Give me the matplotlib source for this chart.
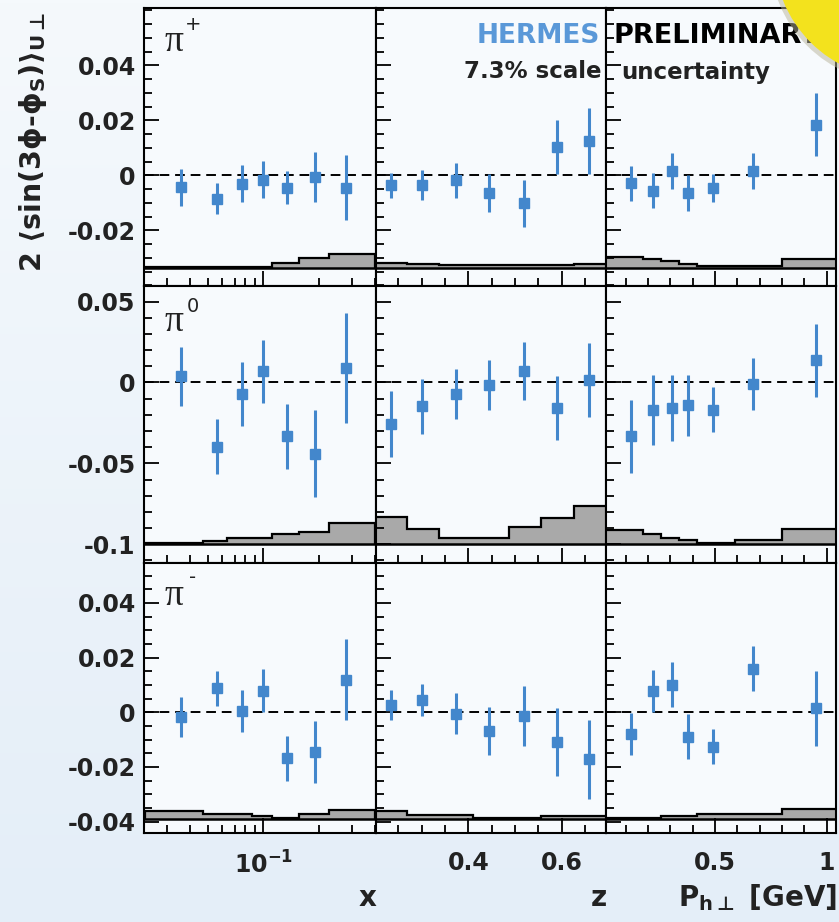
"""HERMES preliminary sin(3phi-phiS) asymmetries for pions vs x, z and Ph"""

import numpy as np
import matplotlib.pyplot as plt
from matplotlib.ticker import (MultipleLocator, FixedLocator, FixedFormatter,
                               LogLocator, NullFormatter, FuncFormatter)
from matplotlib.patches import Circle

# ---- data ----
x_pts = [0.036, 0.056, 0.077, 0.100, 0.134, 0.189, 0.281]
z_pts = [0.234, 0.301, 0.373, 0.444, 0.519, 0.589, 0.659]
pt_pts = [0.124, 0.224, 0.306, 0.381, 0.492, 0.672, 0.952]

x_edges = [0.023, 0.047, 0.064, 0.087, 0.112, 0.155, 0.226, 0.4]
z_edges = [0.2, 0.268, 0.338, 0.41, 0.486, 0.556, 0.626, 0.7]
pt_edges = [0.0, 0.18, 0.26, 0.34, 0.42, 0.59, 0.80, 1.05]

# pi+
pip_x = [-0.0043, -0.0085, -0.0030, -0.0015, -0.0045, -0.0006, -0.0045]
pip_x_err = [0.0067, 0.0057, 0.0067, 0.0067, 0.0060, 0.0091, 0.0118]
pip_z = [-0.0036, -0.0034, -0.0018, -0.0064, -0.0101, 0.0103, 0.0125]
pip_z_err = [0.0045, 0.0055, 0.0063, 0.0068, 0.0085, 0.0098, 0.0120]
pip_pt = [-0.0028, -0.0055, 0.0016, -0.0064, -0.0046, 0.0016, 0.0185]
pip_pt_err = [0.0064, 0.0064, 0.0067, 0.0065, 0.0052, 0.0067, 0.0115]
pip_x_sys = [0.0002, 0.0002, 0.0002, 0.0002, 0.0016, 0.0034, 0.0049]
pip_z_sys = [0.0016, 0.0014, 0.0012, 0.0012, 0.0012, 0.0012, 0.0014]
pip_pt_sys = [0.0040, 0.0032, 0.0024, 0.0015, 0.0006, 0.0006, 0.0032]

# pi0
pi0_x = [0.0037, -0.0399, -0.0070, 0.0070, -0.0333, -0.0440, 0.0091]
pi0_x_err = [0.0185, 0.0170, 0.0197, 0.0195, 0.0202, 0.0269, 0.0339]
pi0_z = [-0.0255, -0.0146, -0.0074, -0.0018, 0.0070, -0.0158, 0.0017]
pi0_z_err = [0.0205, 0.0170, 0.0154, 0.0154, 0.0180, 0.0195, 0.0228]
pi0_pt = [-0.0333, -0.0173, -0.0158, -0.0142, -0.0168, -0.0008, 0.0136]
pi0_pt_err = [0.0226, 0.0216, 0.0206, 0.0190, 0.0140, 0.0160, 0.0226]
pi0_x_sys = [0.0006, 0.0020, 0.0037, 0.0037, 0.0064, 0.0078, 0.0133]
pi0_z_sys = [0.0168, 0.0097, 0.0037, 0.0037, 0.0109, 0.0165, 0.0236]
pi0_pt_sys = [0.0086, 0.0066, 0.0041, 0.0025, 0.0006, 0.0025, 0.0097]

# pi-
pim_x = [-0.0017, 0.0087, 0.0004, 0.0078, -0.0169, -0.0145, 0.0119]
pim_x_err = [0.0073, 0.0063, 0.0078, 0.0079, 0.0082, 0.0114, 0.0149]
pim_z = [0.0026, 0.0046, -0.0005, -0.0069, -0.0013, -0.0108, -0.0173]
pim_z_err = [0.0055, 0.0059, 0.0075, 0.0088, 0.0110, 0.0124, 0.0146]
pim_pt = [-0.0080, 0.0077, 0.0101, -0.0090, -0.0127, 0.0160, 0.0014]
pim_pt_err = [0.0076, 0.0076, 0.0082, 0.0083, 0.0064, 0.0083, 0.0136]
pim_x_sys = [0.0028, 0.0016, 0.0016, 0.0010, 0.0003, 0.0016, 0.0034]
pim_z_sys = [0.0028, 0.0014, 0.0014, 0.0003, 0.0003, 0.0012, 0.0012]
pim_pt_sys = [0.0003, 0.0003, 0.0010, 0.0010, 0.0018, 0.0018, 0.0037]

hadrons = ['+', '0', '-']

# ---- style / layout ----
plt.rcParams['font.family'] = 'DejaVu Sans'
plt.rcParams['font.weight'] = 'bold'
plt.rcParams['mathtext.fontset'] = 'dejavusans'
plt.rcParams['mathtext.default'] = 'bf'

W, H = 839, 922
col_x = [144, 376, 605.7, 836]
row_y = [8, 285.7, 563.3, 833]
ylims = [(-0.0401, 0.0609), (-0.1118, 0.0598), (-0.0442, 0.0545)]
sys_base = [-0.0336, -0.100, -0.039]
xlims = [(0.02265, 0.406), (0.202, 0.694), (0.011, 1.042)]
blue = '#4387cc'
txt = '#222222'

fig = plt.figure(figsize=(W / 100, H / 100), dpi=100)

# soft bluish background
bg = fig.add_axes([0, 0, 1, 1], zorder=-10)
grad = np.linspace(0, 1, 256)[:, None] * np.ones((1, 16))
bg.imshow(grad, aspect='auto', extent=[0, 1, 0, 1], origin='upper',
          cmap=plt.matplotlib.colors.LinearSegmentedColormap.from_list(
              'bg', ['#f5f9fc', '#e4eef8']))
bg.axis('off')

data = {
    (0, 0): (x_pts, pip_x, pip_x_err, x_edges, pip_x_sys),
    (0, 1): (z_pts, pip_z, pip_z_err, z_edges, pip_z_sys),
    (0, 2): (pt_pts, pip_pt, pip_pt_err, pt_edges, pip_pt_sys),
    (1, 0): (x_pts, pi0_x, pi0_x_err, x_edges, pi0_x_sys),
    (1, 1): (z_pts, pi0_z, pi0_z_err, z_edges, pi0_z_sys),
    (1, 2): (pt_pts, pi0_pt, pi0_pt_err, pt_edges, pi0_pt_sys),
    (2, 0): (x_pts, pim_x, pim_x_err, x_edges, pim_x_sys),
    (2, 1): (z_pts, pim_z, pim_z_err, z_edges, pim_z_sys),
    (2, 2): (pt_pts, pim_pt, pim_pt_err, pt_edges, pim_pt_sys),
}

yfmt = FuncFormatter(lambda v, p: '0' if abs(v) < 1e-9 else f'{v:g}')

for r in range(3):
    for c in range(3):
        rect = [col_x[c] / W, 1 - row_y[r + 1] / H,
                (col_x[c + 1] - col_x[c]) / W, (row_y[r + 1] - row_y[r]) / H]
        ax = fig.add_axes(rect, facecolor='#f7fafd')
        if c == 0:
            ax.set_xscale('log')
        ax.set_xlim(*xlims[c])
        ax.set_ylim(*ylims[r])

        pts, val, err, edges, sys_h = data[(r, c)]
        base = sys_base[r]
        ax.stairs(np.array(sys_h) + base, edges, baseline=base, fill=True,
                  facecolor='#a9a9a9', edgecolor='none', zorder=1)
        ax.stairs(np.array(sys_h) + base, edges, baseline=base, fill=False,
                  edgecolor='k', lw=1.6, zorder=2)
        ax.axhline(base, color='k', lw=1.8, zorder=2)

        ax.axhline(0, color='k', lw=1.4, ls=(0, (5, 3)), zorder=3)
        ax.errorbar(pts, val, yerr=err, fmt='s', ms=7.5, color=blue,
                    mec=blue, elinewidth=2.2, capsize=0, zorder=4)

        for s in ax.spines.values():
            s.set_linewidth(1.5)
        ax.tick_params(which='both', direction='in', top=False, right=False,
                       width=1.3, colors='k', labelcolor=txt, labelsize=17)
        ax.tick_params(which='major', length=11, pad=6)
        ax.tick_params(which='minor', length=6)

        # y ticks
        if r == 1:
            ax.yaxis.set_major_locator(FixedLocator([-0.1, -0.05, 0, 0.05]))
            ax.yaxis.set_minor_locator(MultipleLocator(0.01))
        elif r == 0:
            ax.yaxis.set_major_locator(FixedLocator([-0.02, 0, 0.02, 0.04]))
            ax.yaxis.set_minor_locator(MultipleLocator(0.005))
        else:
            ax.yaxis.set_major_locator(FixedLocator([-0.04, -0.02, 0, 0.02, 0.04]))
            ax.yaxis.set_minor_locator(MultipleLocator(0.005))
        ax.yaxis.set_major_formatter(yfmt)
        if c > 0:
            ax.tick_params(labelleft=False)

        # x ticks
        if c == 0:
            ax.xaxis.set_major_locator(FixedLocator([0.1]))
            ax.xaxis.set_major_formatter(FixedFormatter([r'$10^{-1}$']))
            ax.xaxis.set_minor_locator(LogLocator(base=10, subs=np.arange(2, 10)))
            ax.xaxis.set_minor_formatter(NullFormatter())
        elif c == 1:
            ax.xaxis.set_major_locator(FixedLocator([0.4, 0.6]))
            ax.xaxis.set_major_formatter(FixedFormatter(['0.4', '0.6']))
            ax.xaxis.set_minor_locator(MultipleLocator(0.05))
        else:
            ax.xaxis.set_major_locator(FixedLocator([0.5, 1.0]))
            ax.xaxis.set_major_formatter(FixedFormatter(['0.5', '1']))
            ax.xaxis.set_minor_locator(MultipleLocator(0.1))
        ax.tick_params(axis='x', which='major', pad=13)
        if r < 2:
            ax.tick_params(labelbottom=False)

# hadron labels
pi_y = [42, 322, 596]
sup_y = [25, 306, 578]
for r in range(3):
    fig.text(174 / W, 1 - pi_y[r] / H, 'π', family='Liberation Serif',
             fontweight='normal', fontsize=27, ha='center', va='center', color=txt)
    fig.text(193 / W, 1 - sup_y[r] / H, hadrons[r], fontweight='normal',
             fontsize=14, ha='center', va='center', color=txt)

# axis titles
fig.text(33 / W, 1 - 142 / H,
         r'$2\ \langle sin(3\phi$-$\phi_{S})\rangle_{U\mathrm{\bot}}$',
         rotation=90, ha='center', va='center', fontsize=20.5, color=txt)
fig.text(376 / W, 1 - 898 / H, 'x', ha='right', va='center', fontsize=20, color=txt)
fig.text(607 / W, 1 - 898 / H, 'z', ha='right', va='center', fontsize=20, color=txt)
fig.text(837 / W, 1 - 898 / H, r'P$_{h\mathrm{\bot}}$ [GeV]', ha='right',
         va='center', fontsize=20, color=txt)

# preliminary banner
fig.text(600 / W, 1 - 36 / H, 'HERMES', color='#5a98d8', ha='right', va='center',
         fontsize=19, zorder=20)
fig.text(613 / W, 1 - 36 / H, 'PRELIMINARY', color='k', ha='left', va='center',
         fontsize=19.5, zorder=20)
fig.text(601 / W, 1 - 72 / H, '7.3% scale', color=txt, ha='right',
         va='center', fontsize=16.5, zorder=20)
fig.text(621 / W, 1 - 72 / H, 'uncertainty', color=txt, ha='left',
         va='center', fontsize=16.5, zorder=20)

shadow = Circle((8.97, 9.66), 1.27, transform=fig.dpi_scale_trans,
                facecolor='#b8b49a', alpha=0.5, edgecolor='none', zorder=29)
sticker = Circle((8.99, 9.68), 1.25, transform=fig.dpi_scale_trans,
                 facecolor='#f3e21d', edgecolor='none', zorder=30)
fig.add_artist(shadow)
fig.add_artist(sticker)

fig.savefig('out.png', dpi=100)
